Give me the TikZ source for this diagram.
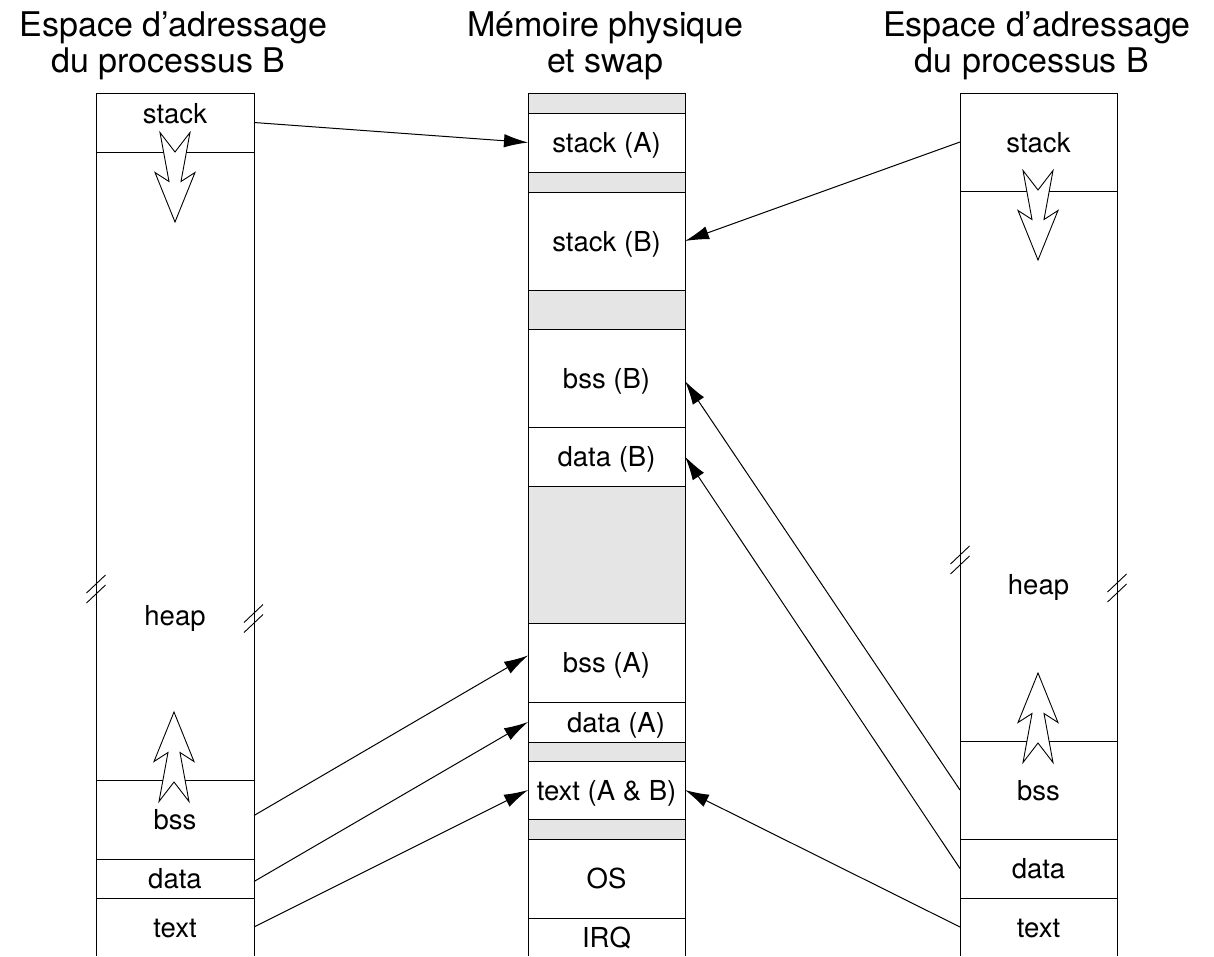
\documentclass[tikz,border=0pt]{standalone}
\usepackage{fontspec}
\setmainfont{TeX Gyre Heros}
\usetikzlibrary{arrows.meta}

% notched hollow arrow: tip x, tip y, +1 when the body lies below the tip, -1 when above
\newcommand\growarrow[3]{%
  \draw[hollow] (#1,#2) -- ({#1+20},{#2+#3*49.5}) -- ({#1+6},{#2+#3*40.5})
    -- ({#1+15},{#2+#3*89.5}) -- (#1,{#2+#3*70}) -- ({#1-15},{#2+#3*89.5})
    -- ({#1-6},{#2+#3*40.5}) -- ({#1-20},{#2+#3*49.5}) -- cycle;}
% double slash marking an elided stretch of a column edge
\newcommand\cutmark[2]{%
  \draw[cut] ({#1-9.5},{#2+4}) -- ({#1+9.5},{#2-14});
  \draw[cut] ({#1-9.5},{#2+14}) -- ({#1+9.5},{#2-4});}

\begin{document}
\begin{tikzpicture}[x=1pt,y=-1pt,
  every node/.style={inner sep=0pt,outer sep=0pt},
  cell/.style={rectangle,minimum width=157pt,
    font=\fontsize{27.5}{31}\selectfont,text height=20pt,text depth=0pt},
  wide/.style={cell,minimum width=158pt},
  free/.style={cell,fill=black!10},
  edge/.style={line width=1pt,black},
  link/.style={line width=1pt,-{Latex[length=24pt,width=13.5pt]}},
  hollow/.style={line width=0.9pt,fill=white,line join=miter},
  cut/.style={line width=0.9pt},
  caption/.style={font=\fontsize{34}{36}\selectfont,anchor=base},
  tag/.style={font=\fontsize{27.5}{31}\selectfont,anchor=base}]

\useasboundingbox (0,0) rectangle (1214,956);

% column titles
\node[caption] (t1a) at (173.5,36) {Espace d’adressage};
\node[caption] (t1b) at (168.5,72) {du processus B};
\node[caption] (t2a) at (605.5,36) {Mémoire physique};
\node[caption] (t2b) at (605.5,72) {et swap};
\node[caption] (t3a) at (1037,36) {Espace d’adressage};
\node[caption] (t3b) at (1032,72) {du processus B};

% left address space
\node[wide,minimum height=59pt]  (lstack) at (175,122.5) {};
\node[wide,minimum height=628pt] (lheap)  at (175,466)   {};
\node[wide,minimum height=79pt]  (lbss)   at (175,819.5) {bss};
\node[wide,minimum height=39pt]  (ldata)  at (175,878.5) {data};
\node[wide,minimum height=58pt]  (ltext)  at (175,927)   {text};
\node[tag] (lstackt) at (175,123) {stack};
\node[tag] (lheapt)  at (175,625) {heap};

% physical memory and swap
\node[free,minimum height=20pt]  (mfree1) at (606.5,103)   {};
\node[cell,minimum height=59pt]  (mstackA) at (606.5,142.5) {stack (A)};
\node[free,minimum height=20pt]  (mfree2) at (606.5,182)   {};
\node[cell,minimum height=98pt]  (mstackB) at (606.5,241)  {stack (B)};
\node[free,minimum height=39pt]  (mfree3) at (606.5,309.5) {};
\node[cell,minimum height=98pt]  (mbssB)  at (606.5,378)   {bss (B)};
\node[cell,minimum height=59pt]  (mdataB) at (606.5,456.5) {data (B)};
\node[free,minimum height=137pt] (mfree4) at (606.5,554.5) {};
\node[cell,minimum height=79pt]  (mbssA)  at (606.5,662.5) {bss (A)};
\node[cell,minimum height=40pt]  (mdataA) at (606.5,722)   {\hspace*{19pt}data (A)};
\node[free,minimum height=19pt]  (mfree5) at (606.5,751.5) {};
\node[cell,minimum height=58pt]  (mtext)  at (606.5,790)   {text (A \& B)};
\node[free,minimum height=20pt]  (mfree6) at (606.5,829)   {};
\node[cell,minimum height=79pt]  (mos)    at (606.5,878.5) {OS};
\node[cell,minimum height=38pt]  (mirq)   at (606.5,937)   {IRQ};

% right address space
\node[cell,minimum height=98pt]  (rstack) at (1038.5,142)   {stack};
\node[cell,minimum height=550pt] (rheap)  at (1038.5,466)   {};
\node[cell,minimum height=98pt]  (rbss)   at (1038.5,790)   {bss};
\node[cell,minimum height=59pt]  (rdata)  at (1038.5,868.5) {data};
\node[cell,minimum height=58pt]  (rtext)  at (1038.5,927)   {text};
\node[tag] (rheapt) at (1038.5,594) {heap};

% column outlines (open at the bottom) and dividers
\draw[edge] (ltext.south west) -- (lstack.north west) -- (lstack.north east) -- (ltext.south east);
\draw[edge] (mirq.south west) -- (mfree1.north west) -- (mfree1.north east) -- (mirq.south east);
\draw[edge] (rtext.south west) -- (rstack.north west) -- (rstack.north east) -- (rtext.south east);
\foreach \c in {lstack,lheap,lbss,ldata,
                mfree1,mstackA,mfree2,mstackB,mfree3,mbssB,mdataB,mfree4,
                mbssA,mdataA,mfree5,mtext,mfree6,mos,
                rstack,rheap,rbss,rdata}
  \draw[edge] (\c.south west) -- (\c.south east);

% elided heap edges
\cutmark{96}{589}
\cutmark{253.5}{618.5}
\cutmark{960}{560}
\cutmark{1117}{588}

% growth directions of stack and heap
\growarrow{175}{222}{-1}
\growarrow{174}{712}{1}
\growarrow{1038}{260}{-1}
\growarrow{1038}{673}{1}

% mappings to physical memory
\draw[link] (lstack.east) -- (mstackA.west);
\draw[link] ([yshift=4pt]lbss.east) -- ([yshift=7pt]mbssA.west);
\draw[link] ([yshift=-3pt]ldata.east) -- (mdataA.west);
\draw[link] (ltext.east) -- (mtext.west);
\draw[link] (rstack.west) -- (mstackB.east);
\draw[link] (rbss.west) -- ([yshift=-3pt]mbssB.east);
\draw[link] (rdata.west) -- (mdataB.east);
\draw[link] (rtext.west) -- (mtext.east);
\end{tikzpicture}
\end{document}
